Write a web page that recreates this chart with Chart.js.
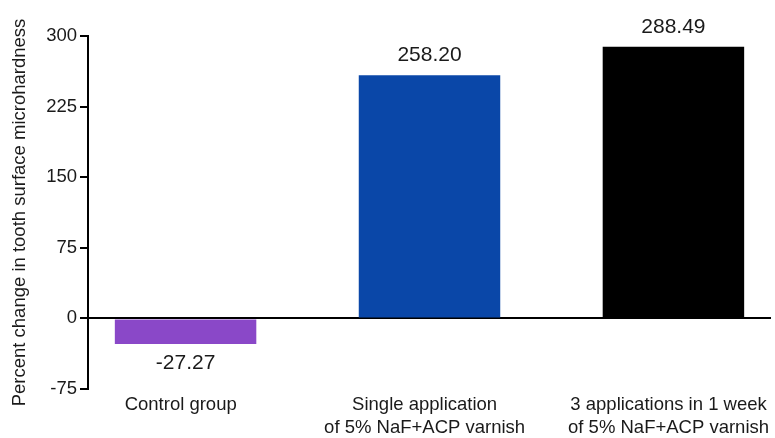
<!DOCTYPE html>
<html>
<head>
<meta charset="utf-8">
<script src="https://cdn.jsdelivr.net/npm/chart.js@4"></script>
<style>
  html, body { margin: 0; padding: 0; background: #fff; }
  #wrap { width: 775px; height: 438px; position: relative; }
</style>
</head>
<body>
<div id="wrap"><canvas id="c"></canvas></div>
<script>
// ---- data ----
const categories = [
  ["Control group"],
  ["Single application", "of 5% NaF+ACP varnish"],
  ["3 applications in 1 week", "of 5% NaF+ACP varnish"]
];
const values = [-27.27, 258.20, 288.49];
const valueLabels = ["-27.27", "258.20", "288.49"];
const barColors = ["#8a48c8", "#0a47a8", "#000000"];
const yTicks = [-75, 0, 75, 150, 225, 300];
const yTitle = "Percent change in tooth surface microhardness";

const FONT = "'Liberation Sans', Arial, Helvetica, sans-serif";

const valueLabelPlugin = {
  id: 'valueLabels',
  afterDatasetsDraw(chart) {
    const ctx = chart.ctx;
    const meta = chart.getDatasetMeta(0);
    ctx.save();
    ctx.font = "21px " + FONT;
    ctx.fillStyle = "#1a1a1a";
    ctx.textAlign = "center";
    ctx.textBaseline = "alphabetic";
    meta.data.forEach((el, i) => {
      const v = values[i];
      if (v >= 0) {
        ctx.fillText(valueLabels[i], el.x, el.y - 14);
      } else {
        ctx.fillText(valueLabels[i], el.x, el.y + 25);
      }
    });
    ctx.restore();
  }
};

new Chart(document.getElementById('c'), {
  type: 'bar',
  data: {
    datasets: [{
      data: values.map((v, i) => ({ x: i, y: v })),
      backgroundColor: barColors,
      borderWidth: 0,
      categoryPercentage: 1,
      barPercentage: 0.58
    }]
  },
  options: {
    responsive: true,
    maintainAspectRatio: false,
    animation: false,
    layout: { padding: { top: 36, right: 4, bottom: 0, left: 0 } },
    plugins: {
      legend: { display: false },
      tooltip: { enabled: false }
    },
    scales: {
      x: {
        type: 'linear',
        offset: false,
        min: -0.4,
        max: 2.4,
        afterBuildTicks: (s) => { s.ticks = categories.map((_, i) => ({ value: i - 0.02 })); },
        afterFit: (s) => { s.height = 49; s.paddingLeft = 0; s.paddingRight = 0; },
        grid: { display: false, drawTicks: false, offset: false },
        border: { display: false },
        ticks: {
          autoSkip: false,
          maxRotation: 0,
          minRotation: 0,
          padding: 4,
          color: "#1a1a1a",
          font: { family: FONT, size: 18.5, lineHeight: 1.24 },
          callback: (v) => categories[Math.round(v)] || ""
        }
      },
      y: {
        min: -75,
        max: 300,
        afterBuildTicks: (s) => { s.ticks = yTicks.map(v => ({ value: v })); },
        afterFit: (s) => { s.width = 88; },
        border: { display: true, color: "#000", width: 2 },
        grid: {
          drawOnChartArea: true,
          color: (c) => (c.tick && c.tick.value === 0) ? "#000" : "rgba(0,0,0,0)",
          lineWidth: 2,
          tickColor: "#000",
          tickWidth: 2,
          tickLength: 8
        },
        ticks: {
          padding: 3,
          color: "#1a1a1a",
          font: { family: FONT, size: 18.5 }
        },
        title: {
          display: true,
          text: yTitle,
          color: "#1a1a1a",
          font: { family: FONT, size: 18.5 },
          padding: { top: 9, bottom: 0 }
        }
      }
    }
  },
  plugins: [valueLabelPlugin]
});
</script>
</body>
</html>
